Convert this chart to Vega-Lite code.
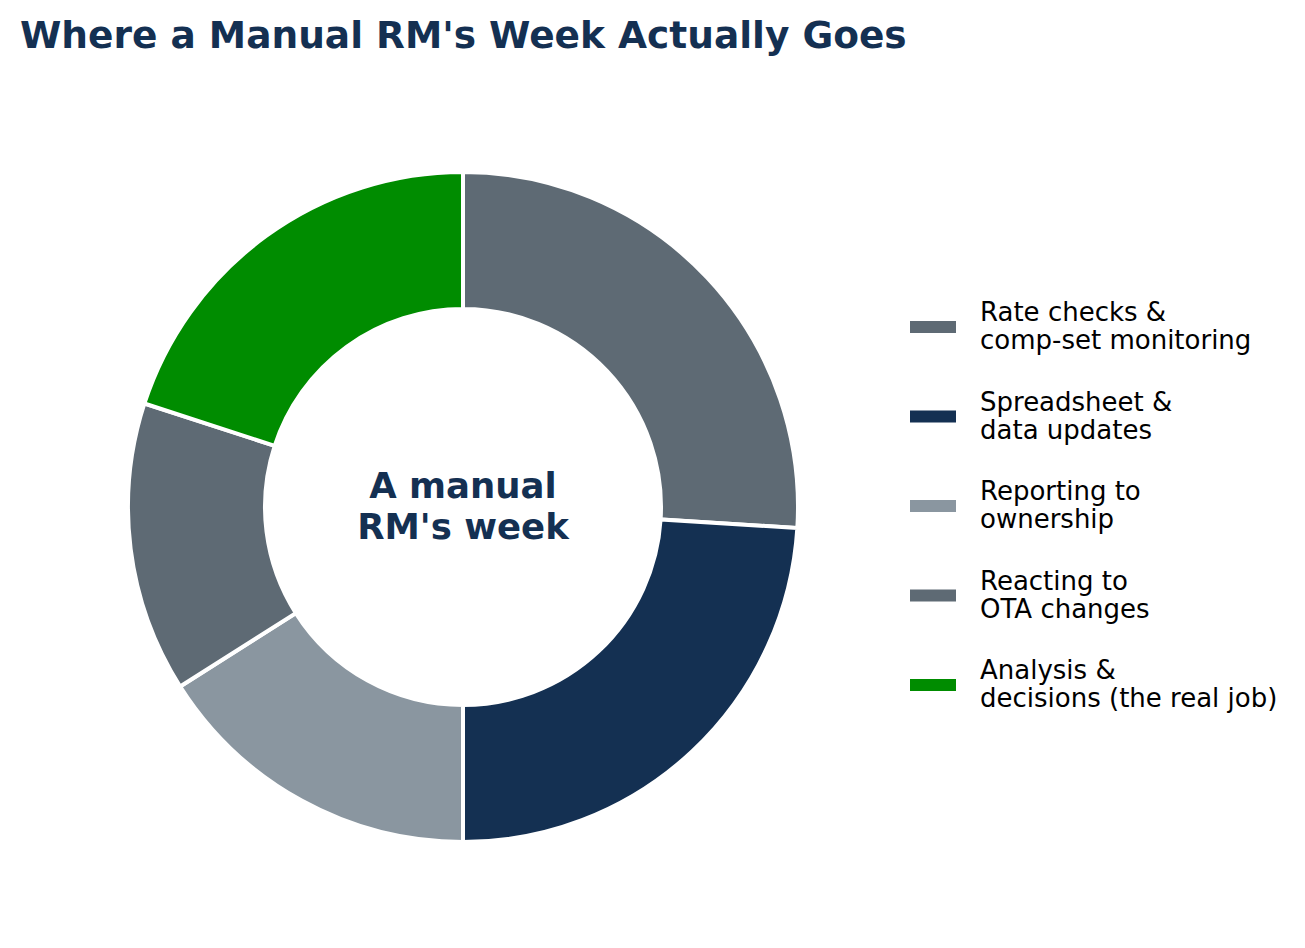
{
  "$schema": "https://vega.github.io/schema/vega-lite/v6.json",
  "width": 926,
  "height": 800,
  "autosize": {"type": "none"},
  "padding": {"left": 0, "top": 107, "right": 379, "bottom": 41},
  "background": "white",
  "title": {
    "text": "Where a Manual RM's Week Actually Goes",
    "anchor": "start",
    "frame": "group",
    "font": "DejaVu Sans",
    "fontSize": 37.5,
    "fontWeight": "bold",
    "color": "#143052",
    "dx": 20,
    "offset": 52
  },
  "config": {
    "view": {"stroke": null},
    "font": "DejaVu Sans"
  },
  "data": {
    "values": [
      {"task": "Rate checks &\ncomp-set monitoring", "share": 26, "ord": 1},
      {"task": "Spreadsheet &\ndata updates", "share": 24, "ord": 2},
      {"task": "Reporting to\nownership", "share": 16, "ord": 3},
      {"task": "Reacting to\nOTA changes", "share": 14, "ord": 4},
      {"task": "Analysis &\ndecisions (the real job)", "share": 20, "ord": 5}
    ]
  },
  "layer": [
    {
      "mark": {
        "type": "arc",
        "outerRadius": 335,
        "innerRadius": 198,
        "stroke": "white",
        "strokeWidth": 4
      },
      "encoding": {
        "theta": {"field": "share", "type": "quantitative", "stack": true},
        "order": {"field": "ord", "type": "quantitative"},
        "color": {
          "field": "task",
          "type": "nominal",
          "sort": null,
          "scale": {
            "domain": [
              "Rate checks &\ncomp-set monitoring",
              "Spreadsheet &\ndata updates",
              "Reporting to\nownership",
              "Reacting to\nOTA changes",
              "Analysis &\ndecisions (the real job)"
            ],
            "range": ["#5e6a74", "#143052", "#8a96a0", "#5e6a74", "#008c00"]
          },
          "legend": {
            "title": null,
            "orient": "none",
            "legendX": 910,
            "legendY": 183,
            "padding": 0,
            "symbolType": "M-1,0.35L1,0.35L1,0.87L-1,0.87Z",
            "symbolSize": 2116,
            "symbolStrokeWidth": 0,
            "labelOffset": 24,
            "labelFont": "DejaVu Sans",
            "labelFontSize": 26,
            "labelColor": "black",
            "labelLimit": 0,
            "labelExpr": "split(datum.label, '\\n')",
            "rowPadding": 25.5
          }
        }
      }
    },
    {
      "data": {"values": [{"center": "A manual RM's week"}]},
      "mark": {
        "type": "text",
        "text": ["A manual", "RM's week"],
        "font": "DejaVu Sans",
        "fontSize": 35.5,
        "fontWeight": "bold",
        "color": "#143052",
        "lineHeight": 41,
        "align": "center",
        "baseline": "middle",
        "dy": -20
      },
      "encoding": {}
    }
  ]
}
